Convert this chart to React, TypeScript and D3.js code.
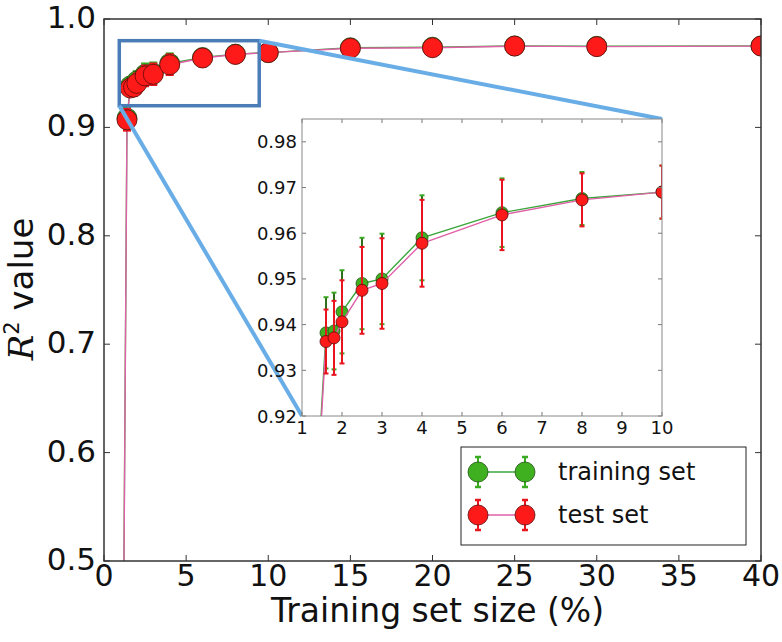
import React from 'react';
import * as d3 from 'd3';

// ---------- data ----------
const sizes = [1, 1.4, 1.6, 1.8, 2, 2.5, 3, 4, 6, 8, 10, 15, 20, 25, 30, 40];
const trainMean = [0.03, 0.9085, 0.9382, 0.9386, 0.9428, 0.949, 0.950, 0.959, 0.9645, 0.9676, 0.969, 0.9735, 0.974, 0.9752, 0.9748, 0.9752];
const trainErr = [0.02, 0.01, 0.0078, 0.0084, 0.0091, 0.010, 0.0099, 0.0093, 0.0075, 0.0058, 0.0058, 0.004, 0.003, 0.003, 0.003, 0.003];
const testMean = [0.02, 0.907, 0.9363, 0.9371, 0.9406, 0.9475, 0.949, 0.9578, 0.964, 0.9673, 0.969, 0.973, 0.9735, 0.975, 0.9745, 0.975];
const testErr = [0.02, 0.01, 0.007, 0.0081, 0.0091, 0.0095, 0.0099, 0.0095, 0.0077, 0.0058, 0.0058, 0.004, 0.003, 0.003, 0.003, 0.003];

const mainXTicks = [0, 5, 10, 15, 20, 25, 30, 35, 40];
const mainYTicks = [0.5, 0.6, 0.7, 0.8, 0.9, 1.0];
const insetXTicks = [1, 2, 3, 4, 5, 6, 7, 8, 9, 10];
const insetYTicks = [0.92, 0.93, 0.94, 0.95, 0.96, 0.97, 0.98];
const mainXDomain = [0, 40];
const mainYDomain = [0.5, 1.0];
const insetXDomain = [1, 10];
const insetYDomain = [0.92, 0.985];
const zoomBoxX = [0.93, 9.45];
const zoomBoxY = [0.92, 0.98];
const seriesNames = ['training set', 'test set'];

// ---------- styles ----------
const W = 782, H = 642;
const FONT = 'DejaVu Sans, sans-serif';
const main = { left: 104, right: 761, top: 19, bottom: 561 };
const inset = { left: 302, right: 662, top: 119, bottom: 416 };

const series = [
  { mean: trainMean, err: trainErr, line: '#3aa63a', fill: '#3fb020', edge: '#1e5010', bar: '#2f6f1a', cap: '#3aaa22' },
  { mean: testMean, err: testErr, line: '#e060a8', fill: '#ff1a1a', edge: '#5a0a0a', bar: '#e8141e', cap: '#e8141e' },
];

function Series({ x, y, r, capW, clipId, barW }: any) {
  return (
    <g clipPath={`url(#${clipId})`}>
      {series.map((s, si) => {
        const line = d3.line<number>().x((_, i) => x(sizes[i])).y((d) => y(d));
        return (
          <g key={si}>
            <path d={line(s.mean) || ''} fill="none" stroke={s.line} strokeWidth={1.4} />
            {sizes.map((sz, i) => {
              const cx = x(sz);
              const y1 = y(s.mean[i] + s.err[i]);
              const y0 = y(s.mean[i] - s.err[i]);
              return (
                <g key={i}>
                  <line x1={cx} x2={cx} y1={y0} y2={y1} stroke={s.bar} strokeWidth={barW} />
                  <line x1={cx - capW} x2={cx + capW} y1={y1} y2={y1} stroke={s.cap} strokeWidth={2} />
                  <line x1={cx - capW} x2={cx + capW} y1={y0} y2={y0} stroke={s.cap} strokeWidth={2} />
                </g>
              );
            })}
            {sizes.map((sz, i) => (
              <circle key={'m' + i} cx={x(sz)} cy={y(s.mean[i])} r={r} fill={s.fill} stroke={s.edge} strokeWidth={0.8} />
            ))}
          </g>
        );
      })}
    </g>
  );
}

function Ticks({ box, x, y, xt, yt, len, stroke }: any) {
  return (
    <g stroke={stroke} strokeWidth={1}>
      {xt.map((t: number) => (
        <g key={'x' + t}>
          <line x1={x(t)} x2={x(t)} y1={box.bottom} y2={box.bottom - len} />
          <line x1={x(t)} x2={x(t)} y1={box.top} y2={box.top + len} />
        </g>
      ))}
      {yt.map((t: number) => (
        <g key={'y' + t}>
          <line x1={box.left} x2={box.left + len} y1={y(t)} y2={y(t)} />
          <line x1={box.right} x2={box.right - len} y1={y(t)} y2={y(t)} />
        </g>
      ))}
    </g>
  );
}

export default function App() {
  const xM = d3.scaleLinear().domain(mainXDomain).range([main.left, main.right]);
  const yM = d3.scaleLinear().domain(mainYDomain).range([main.bottom, main.top]);
  const xI = d3.scaleLinear().domain(insetXDomain).range([inset.left, inset.right]);
  const yI = d3.scaleLinear().domain(insetYDomain).range([inset.bottom, inset.top]);
  const fM = d3.format('.1f');
  const fI = d3.format('.2f');

  const bx0 = xM(zoomBoxX[0]), bx1 = xM(zoomBoxX[1]);
  const by0 = yM(zoomBoxY[0]), by1 = yM(zoomBoxY[1]);

  const leg = { left: 461, top: 447, right: 746, bottom: 545 };
  const legRows = [472, 515];

  return (
    <svg width={W} height={H} style={{ position: 'absolute', left: 0, top: 0, background: '#fff' }} fontFamily={FONT}>
      <defs>
        <clipPath id="clipMain">
          <rect x={main.left} y={main.top} width={main.right - main.left} height={main.bottom - main.top} />
        </clipPath>
        <clipPath id="clipInset">
          <rect x={inset.left} y={inset.top} width={inset.right - inset.left} height={inset.bottom - inset.top} />
        </clipPath>
      </defs>
      <rect x={0} y={0} width={W} height={H} fill="#fff" />

      {/* main plot */}
      <Series x={xM} y={yM} r={10} capW={4} clipId="clipMain" barW={1.5} />
      <Ticks box={main} x={xM} y={yM} xt={mainXTicks} yt={mainYTicks} len={6} stroke="#333" />
      <rect x={main.left} y={main.top} width={main.right - main.left} height={main.bottom - main.top} fill="none" stroke="#333" strokeWidth={1.5} />

      {mainXTicks.map((t) => (
        <text key={'xl' + t} x={xM(t)} y={586} fontSize={30} textAnchor="middle" fill="#111">{t}</text>
      ))}
      {mainYTicks.map((t) => (
        <text key={'yl' + t} x={96} y={yM(t) - 2} fontSize={31} textAnchor="end" dominantBaseline="central" fill="#111">{fM(t)}</text>
      ))}
      <text x={(main.left + main.right) / 2 + 5} y={622} fontSize={33} textAnchor="middle" fill="#111">Training set size (%)</text>
      <text transform={`translate(33, 289) rotate(-90)`} fontSize={34} textAnchor="middle" fill="#111">
        <tspan fontFamily="DejaVu Serif, serif" fontStyle="italic">R</tspan>
        <tspan fontSize={21} dy={-14}>2</tspan>
        <tspan dy={14}> value</tspan>
      </text>

      {/* zoom box and connectors */}
      <rect x={bx0} y={by1} width={bx1 - bx0} height={by0 - by1} fill="none" stroke="#4a7db8" strokeWidth={3.5} />
      <line x1={bx1} y1={by1} x2={inset.right} y2={inset.top} stroke="#69ade6" strokeWidth={4} />
      <line x1={bx0} y1={by0} x2={inset.left} y2={inset.bottom} stroke="#69ade6" strokeWidth={4} />

      {/* inset */}
      <rect x={inset.left} y={inset.top} width={inset.right - inset.left} height={inset.bottom - inset.top} fill="#fff" />
      <Series x={xI} y={yI} r={6} capW={2.5} clipId="clipInset" barW={2} />
      <Ticks box={inset} x={xI} y={yI} xt={insetXTicks} yt={insetYTicks} len={4} stroke="#777" />
      <rect x={inset.left} y={inset.top} width={inset.right - inset.left} height={inset.bottom - inset.top} fill="none" stroke="#888" strokeWidth={1} />
      {insetXTicks.map((t) => (
        <text key={'ixl' + t} x={xI(t)} y={434} fontSize={18} textAnchor="middle" fill="#111">{t}</text>
      ))}
      {insetYTicks.map((t) => (
        <text key={'iyl' + t} x={297} y={yI(t)} fontSize={18} textAnchor="end" dominantBaseline="central" fill="#111">{fI(t)}</text>
      ))}

      {/* legend */}
      <rect x={leg.left} y={leg.top} width={leg.right - leg.left} height={leg.bottom - leg.top} fill="#fff" stroke="#222" strokeWidth={1} />
      {series.map((s, i) => {
        const cy = legRows[i];
        const xs = [478, 525];
        return (
          <g key={'lg' + i}>
            <line x1={xs[0]} x2={xs[1]} y1={cy} y2={cy} stroke={s.line} strokeWidth={1.4} />
            {xs.map((cx) => (
              <g key={cx}>
                <line x1={cx} x2={cx} y1={cy - 15} y2={cy + 15} stroke={s.cap} strokeWidth={2} />
                <line x1={cx - 3} x2={cx + 3} y1={cy - 15} y2={cy - 15} stroke={s.cap} strokeWidth={2.5} />
                <line x1={cx - 3} x2={cx + 3} y1={cy + 15} y2={cy + 15} stroke={s.cap} strokeWidth={2.5} />
                <circle cx={cx} cy={cy} r={10} fill={s.fill} stroke={s.edge} strokeWidth={0.8} />
              </g>
            ))}
            <text x={558} y={cy} fontSize={24} dominantBaseline="central" fill="#111">{seriesNames[i]}</text>
          </g>
        );
      })}
    </svg>
  );
}
